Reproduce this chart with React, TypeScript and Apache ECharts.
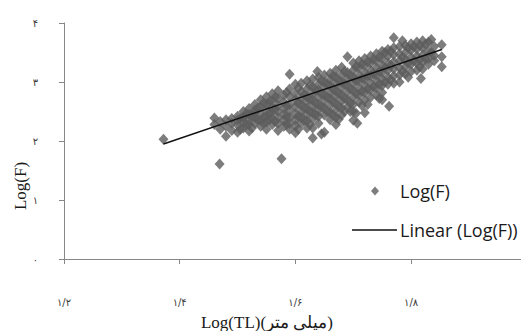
import React, { useEffect, useRef } from "react";
import * as echarts from "echarts";

const xTickValues = [1.2, 1.4, 1.6, 1.8, 2.0];
const xTickLabels = ["۱/۲", "۱/۴", "۱/۶", "۱/۸", "۲"];
const yTickValues = [0, 1, 2, 3, 4];
const yTickLabels = ["۰", "۱", "۲", "۳", "۴"];

const xAxisName = "Log(TL)(میلی متر)";
const yAxisName = "Log(F)";
const scatterName = "Log(F)";
const trendName = "Linear (Log(F))";

const columns: [number, number[]][] = [
  [1.372, [2.03]],
  [1.46, [2.39, 2.28]],
  [1.469, [1.61]],
  [1.47, [2.33, 2.2]],
  [1.48, [2.36, 2.08, 2.25]],
  [1.49, [2.38, 2.3, 2.18]],
  [1.5, [2.42, 2.35, 2.27, 2.15]],
  [1.505, [2.38, 2.2]],
  [1.51, [2.5, 2.4, 2.32, 2.22]],
  [1.515, [2.46, 2.28]],
  [1.52, [2.55, 2.45, 2.36, 2.17, 2.28]],
  [1.525, [2.42, 2.22]],
  [1.53, [2.62, 2.48, 2.4, 2.3, 2.52]],
  [1.535, [2.56, 2.36]],
  [1.54, [2.7, 2.58, 2.46, 2.35, 2.25]],
  [1.545, [2.64, 2.4, 2.3]],
  [1.55, [2.75, 2.62, 2.52, 2.42, 2.32, 2.2]],
  [1.555, [2.66, 2.46, 2.36]],
  [1.56, [2.8, 2.68, 2.56, 2.48, 2.38, 2.28]],
  [1.565, [2.74, 2.54, 2.33]],
  [1.57, [2.85, 2.72, 2.6, 2.5, 2.4, 2.3, 2.18]],
  [1.576, [1.7]],
  [1.58, [2.78, 2.66, 2.55, 2.45, 2.35, 2.25]],
  [1.585, [2.82, 2.6, 2.42, 2.28]],
  [1.59, [3.13, 2.88, 2.75, 2.62, 2.52, 2.4, 2.3, 2.2]],
  [1.6, [2.96, 2.8, 2.7, 2.58, 2.46, 2.36, 2.26, 2.14]],
  [1.605, [2.9, 2.64, 2.42, 2.2]],
  [1.61, [2.98, 2.84, 2.72, 2.62, 2.5, 2.4, 2.3]],
  [1.615, [2.78, 2.56, 2.35]],
  [1.62, [3.02, 2.88, 2.76, 2.66, 2.55, 2.45, 2.34, 2.22]],
  [1.625, [2.94, 2.7, 2.5, 2.28]],
  [1.63, [3.05, 2.92, 2.8, 2.7, 2.58, 2.48, 2.38, 2.05, 2.22]],
  [1.635, [2.86, 2.64, 2.44]],
  [1.638, [3.18]],
  [1.64, [3.08, 2.96, 2.86, 2.74, 2.62, 2.52, 2.42, 2.3]],
  [1.645, [3.02, 2.8, 2.58, 2.12]],
  [1.65, [3.12, 3.0, 2.9, 2.78, 2.68, 2.56, 2.44, 2.15]],
  [1.655, [2.96, 2.74, 2.5]],
  [1.66, [3.15, 3.04, 2.94, 2.82, 2.72, 2.6, 2.48, 2.36]],
  [1.665, [3.1, 2.88, 2.66, 2.44]],
  [1.67, [3.2, 3.08, 2.96, 2.86, 2.76, 2.64, 2.52, 2.4, 2.28]],
  [1.675, [3.02, 2.8, 2.58, 2.37]],
  [1.68, [3.25, 3.12, 3.0, 2.9, 2.78, 2.68, 2.56, 2.44]],
  [1.685, [3.18, 2.96, 2.72, 2.5]],
  [1.69, [3.43, 3.16, 3.05, 2.94, 2.82, 2.7, 2.58]],
  [1.695, [3.1, 2.88, 2.64, 2.5]],
  [1.7, [3.32, 3.2, 3.08, 2.98, 2.86, 2.74, 2.62, 2.5, 2.35]],
  [1.705, [3.26, 3.02, 2.8, 2.47]],
  [1.707, [2.3]],
  [1.71, [3.36, 3.24, 3.12, 3.02, 2.9, 2.78, 2.66]],
  [1.715, [3.3, 3.06, 2.84, 2.6]],
  [1.72, [3.4, 3.28, 3.16, 3.05, 2.94, 2.82, 2.7, 2.48]],
  [1.725, [3.34, 3.1, 2.88, 2.62]],
  [1.73, [3.44, 3.32, 3.2, 3.1, 2.98, 2.86, 2.74]],
  [1.735, [3.38, 3.14, 2.92]],
  [1.74, [3.48, 3.36, 3.24, 3.12, 3.02, 2.9, 2.78]],
  [1.745, [3.42, 3.18, 2.96, 2.72]],
  [1.75, [3.52, 3.4, 3.28, 3.16, 3.05, 2.94, 2.82, 2.7]],
  [1.755, [3.5, 3.24, 3.0]],
  [1.76, [3.55, 3.44, 3.32, 3.2, 3.08, 2.96]],
  [1.762, [2.59]],
  [1.765, [3.52, 3.28, 3.04]],
  [1.77, [3.75, 3.58, 3.46, 3.34, 3.22, 3.1, 2.98]],
  [1.78, [3.6, 3.48, 3.36, 3.24, 3.12, 3.0]],
  [1.785, [3.7, 3.42, 3.18]],
  [1.79, [3.62, 3.5, 3.38, 3.26, 3.14]],
  [1.795, [3.58, 3.32, 3.08]],
  [1.8, [3.65, 3.54, 3.42, 3.3, 3.18]],
  [1.805, [3.6, 3.36]],
  [1.81, [3.68, 3.56, 3.44, 3.32, 3.2]],
  [1.815, [3.62, 3.38, 3.26]],
  [1.817, [3.06]],
  [1.82, [3.7, 3.58, 3.46, 3.34, 3.22]],
  [1.825, [3.64, 3.4]],
  [1.83, [3.68, 3.52, 3.4, 3.3]],
  [1.835, [3.72, 3.5]],
  [1.84, [3.6, 3.45, 3.36]],
  [1.853, [3.63, 3.43, 3.26]],
];

const trendX = [1.372, 1.853];
const trendY = [1.95, 3.55];

export default function App() {
  const ref = useRef<HTMLDivElement>(null);
  useEffect(() => {
    if (!ref.current) return;
    const chart = echarts.init(ref.current, null, { renderer: "svg" });
    const scatterData: number[][] = [];
    columns.forEach(([x, ys]) => ys.forEach((y) => scatterData.push([x, y])));
    const trendData = trendX.map((x, i) => [x, trendY[i]]);
    const labelFor = (vals: number[], labels: string[]) => (v: number) => {
      const i = vals.findIndex((t) => Math.abs(t - v) < 1e-6);
      return i >= 0 ? labels[i] : "";
    };
    chart.setOption({
      animation: false,
      backgroundColor: "#ffffff",
      grid: { left: 64, top: 23, right: 0, bottom: 72, containLabel: false },
      xAxis: {
        type: "value",
        min: 1.2,
        max: 1.99,
        interval: 0.2,
        axisLine: { show: true, lineStyle: { color: "#878787", width: 1 } },
        axisTick: { show: true, length: 5, lineStyle: { color: "#878787" } },
        splitLine: { show: false },
        axisLabel: {
          margin: 38,
          fontSize: 10,
          color: "#3a3a3a",
          fontFamily: "DejaVu Sans",
          showMaxLabel: false,
          formatter: labelFor(xTickValues, xTickLabels),
        },
      },
      yAxis: {
        type: "value",
        min: 0,
        max: 4,
        interval: 1,
        axisLine: { show: true, lineStyle: { color: "#878787", width: 1 } },
        axisTick: { show: true, length: 5, lineStyle: { color: "#878787" } },
        splitLine: { show: false },
        axisLabel: {
          margin: 26,
          fontSize: 10,
          color: "#3a3a3a",
          fontFamily: "DejaVu Sans",
          formatter: labelFor(yTickValues, yTickLabels),
        },
      },
      legend: [
        {
          data: [{ name: scatterName, icon: "diamond" }],
          left: 366,
          top: 177,
          itemWidth: 8,
          itemHeight: 9,
          itemGap: 0,
          textStyle: { fontSize: 18, color: "#1a1a1a", fontFamily: "Open Sans", padding: [0, 0, 0, 16] },
        },
        {
          data: [{ name: trendName, icon: "rect" }],
          left: 347,
          top: 216,
          itemWidth: 45,
          itemHeight: 1.5,
          textStyle: { fontSize: 18, color: "#1a1a1a", fontFamily: "Open Sans", padding: [0, 0, 0, -2] },
        },
      ],
      series: [
        {
          name: scatterName,
          type: "scatter",
          data: scatterData,
          symbol: "diamond",
          symbolSize: [10, 11],
          itemStyle: { color: "#5c5c5c" },
        },
        {
          name: trendName,
          type: "line",
          data: trendData,
          symbol: "none",
          lineStyle: { color: "#111111", width: 1.5 },
          itemStyle: { color: "#111111" },
        },
      ],
      graphic: [
        {
          type: "text",
          x: 20,
          y: 186,
          rotation: Math.PI / 2,
          style: {
            text: yAxisName,
            font: '17px "Liberation Serif"',
            fill: "#1a1a1a",
            align: "center",
            verticalAlign: "middle",
          },
        },
        {
          type: "text",
          x: 267,
          y: 322,
          style: {
            text: xAxisName,
            font: '17px "Liberation Serif"',
            fill: "#1a1a1a",
            align: "center",
            verticalAlign: "middle",
          },
        },
      ],
    });
    return () => chart.dispose();
  }, []);
  return <div ref={ref} style={{ width: 521, height: 331, position: "fixed", left: 0, top: 0 }} />;
}
